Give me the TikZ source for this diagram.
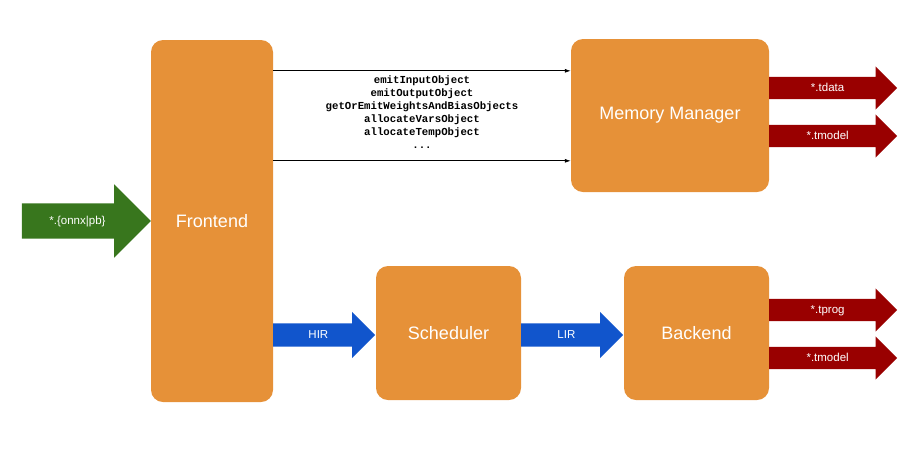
\documentclass[tikz,border=0pt]{standalone}
\usepackage{fontspec}
\setmainfont{Liberation Sans}
\setmonofont{Liberation Mono}
\usepackage{xcolor}
\definecolor{blkorange}{RGB}{230,145,56}
\definecolor{inpgreen}{RGB}{56,118,29}
\definecolor{outred}{RGB}{153,0,0}
\definecolor{irblue}{RGB}{17,85,204}
\usepackage{tikz}
\usetikzlibrary{positioning,shapes.arrows,arrows.meta,calc}

\begin{document}
\begin{tikzpicture}[x=1pt, y=-1pt,
  box/.style={fill=blkorange, rounded corners=12pt, text=white, font=\fontsize{18}{20}\selectfont, inner sep=0pt},
  fat/.style={single arrow, single arrow tip angle=90, text=white, font=\fontsize{11.5}{12}\selectfont,
    text height=0.7em, text depth=0pt, inner xsep=2pt, outer sep=0pt, anchor=tail},
  outfat/.style={fat, fill=outred, inner ysep=7.475pt, single arrow head extend=10.5pt, minimum height=128pt},
  irfat/.style={fat, fill=irblue, inner ysep=7.975pt, single arrow head extend=11.5pt, minimum height=102pt},
  arrow/.style={-{Latex[length=6pt,width=4pt]}, line width=0.8pt}]
  \useasboundingbox (0,0) rectangle (916,448);
  \node[box, minimum width=122pt, minimum height=362pt] (front) at (212,221) {Frontend};
  \node[box, minimum width=198pt, minimum height=153pt] (mem) at (670,115.5) {Memory Manager};
  \node[box, minimum width=145pt, minimum height=134pt] (sched) at (448.5,333) {Scheduler};
  \node[box, minimum width=145pt, minimum height=134pt] (back) at (696.5,333) {Backend};
  \node[fat, fill=inpgreen, inner ysep=13.975pt, single arrow head extend=19pt, minimum height=129pt,
    anchor=tip] (onnx) at (front.west) {*.\{onnx|pb\}};
  \node[irfat] (hir) at ([yshift=-2pt]front.east |- sched.west) {HIR};
  \node[irfat] (lir) at ([yshift=-2pt]sched.east) {LIR};
  \node[outfat] (tdata) at ([yshift=27.5pt]mem.east) {*.tdata};
  \node[outfat] (tmodelm) at ([yshift=-20.5pt]mem.east) {*.tmodel};
  \node[outfat] (tprog) at ([yshift=23pt]back.east) {*.tprog};
  \node[outfat] (tmodelb) at ([yshift=-25pt]back.east) {*.tmodel};
  \coordinate (callin) at ([yshift=-31pt]front.north east);
  \coordinate (callout) at ([yshift=-121pt]front.north east);
  \draw[arrow] (callin) -- (callin -| mem.west);
  \draw[arrow] (callout) -- (callout -| mem.west);
  \node[align=center, font=\ttfamily\bfseries\fontsize{10.7}{13}\selectfont] (calls)
    at ([yshift=3.5pt]$(callin)!0.5!(callout -| mem.west)$)
    {emitInputObject\\emitOutputObject\\getOrEmitWeightsAndBiasObjects\\allocateVarsObject\\allocateTempObject\\...};
\end{tikzpicture}
\end{document}
